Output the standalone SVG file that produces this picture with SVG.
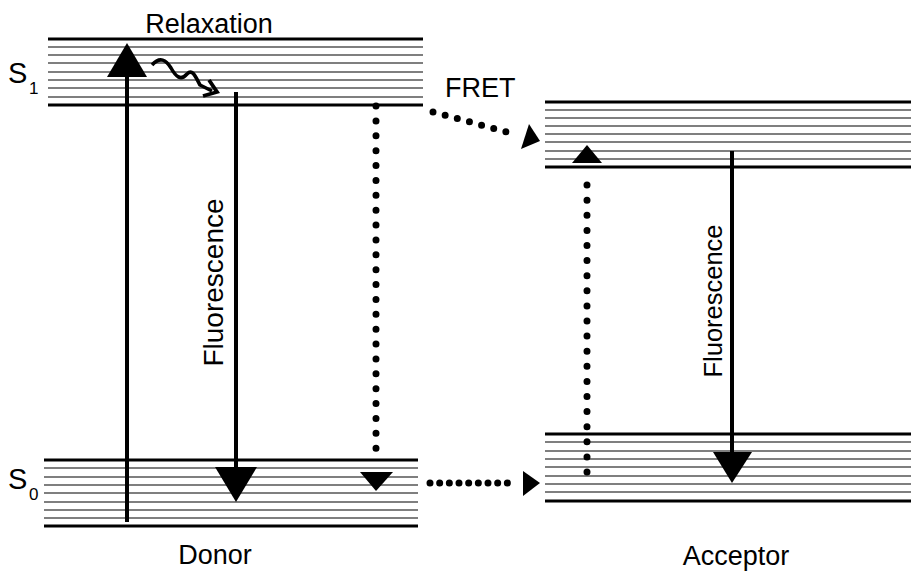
<svg xmlns="http://www.w3.org/2000/svg" width="911" height="571" viewBox="0 0 911 571">
<style>
.thick{stroke:#000;stroke-width:3.2;fill:none}
.thin{stroke:#000;stroke-width:1.2;fill:none}
.arr{stroke:#000;stroke-width:4;fill:none}
.dot{stroke:#000;stroke-width:7;stroke-linecap:round;fill:none}
.head{fill:#000;stroke:none}
text{font-family:"Liberation Sans",Arial,sans-serif;fill:#000}
.lbl{font-size:27px}
.big{font-size:29px}
.sub{font-size:17px}
</style>
<rect width="911" height="571" fill="#fff"/>
<g id="donor-S1">
<line class="thick" x1="48" y1="39" x2="423" y2="39"/>
<path class="thin" d="M48,47H423M48,55H423M48,63H423M48,72H423M48,80H423M48,88H423M48,97H423"/>
<line class="thick" x1="48" y1="105" x2="423" y2="105"/>
<text class="big" x="8" y="83">S</text><text class="sub" x="29" y="94">1</text>
</g>
<g id="donor-S0">
<line class="thick" x1="44" y1="460" x2="418" y2="460"/>
<path class="thin" d="M44,468H418M44,477H418M44,485H418M44,493H418M44,502H418M44,510H418M44,518H418"/>
<line class="thick" x1="44" y1="526" x2="418" y2="526"/>
<text class="big" x="8" y="489">S</text><text class="sub" x="29" y="500">0</text>
</g>
<g id="acceptor-S1">
<line class="thick" x1="545" y1="102" x2="911" y2="102"/>
<path class="thin" d="M545,110H911M545,118H911M545,126H911M545,134H911M545,142H911M545,151H911M545,159H911"/>
<line class="thick" x1="545" y1="167" x2="911" y2="167"/>
</g>
<g id="acceptor-S0">
<line class="thick" x1="545" y1="434" x2="911" y2="434"/>
<path class="thin" d="M545,442H911M545,451H911M545,459H911M545,467H911M545,476H911M545,484H911M545,492H911"/>
<line class="thick" x1="545" y1="501" x2="911" y2="501"/>
</g>
<g id="labels">
<text class="lbl" x="209" y="33" text-anchor="middle">Relaxation</text>
<text class="lbl" x="445" y="97">FRET</text>
<text class="lbl" x="215" y="564" text-anchor="middle">Donor</text>
<text class="lbl" x="736" y="565" text-anchor="middle">Acceptor</text>
<text x="223" y="282.5" font-size="28" text-anchor="middle" transform="rotate(-90 223 282.5)">Fluorescence</text>
<text x="722" y="301" font-size="25.5" text-anchor="middle" transform="rotate(-90 722 301)">Fluorescence</text>
</g>
<g id="connectors">
<line class="arr" x1="127" y1="522" x2="127" y2="75"/>
<polygon class="head" points="127,43 107,77 147,77"/>
<path d="M152,65 C160,56 166,60 171,68 C176,77 181,81 187,74 C193,68 196,78 200,85 L212,91" stroke="#000" stroke-width="3.6" fill="none"/>
<polyline points="209,80 217,92 203,96" stroke="#000" stroke-width="3.8" fill="none" stroke-linejoin="miter"/>
<line class="arr" x1="236" y1="92" x2="236" y2="470"/>
<polygon class="head" points="215,467 257,467 236,502"/>
<line class="dot" x1="376" y1="106" x2="376" y2="463" stroke-dasharray="0 14.875"/>
<polygon class="head" points="360,472 393,472 376,491"/>
<line class="dot" x1="433" y1="112" x2="518" y2="135" stroke-dasharray="0 12.58"/>
<polygon class="head" points="540,141 529,124 521,149"/>
<line class="dot" x1="430" y1="483" x2="517" y2="483" stroke-dasharray="0 9.667"/>
<polygon class="head" points="523,471 523,496 540,483"/>
<line class="dot" x1="587" y1="472" x2="587" y2="170" stroke-dasharray="0 15.1"/>
<polygon class="head" points="587,145 572,163 602,163"/>
<line class="arr" x1="732" y1="151" x2="732" y2="455"/>
<polygon class="head" points="713,452 752,452 732,483"/>
</g>
</svg>
